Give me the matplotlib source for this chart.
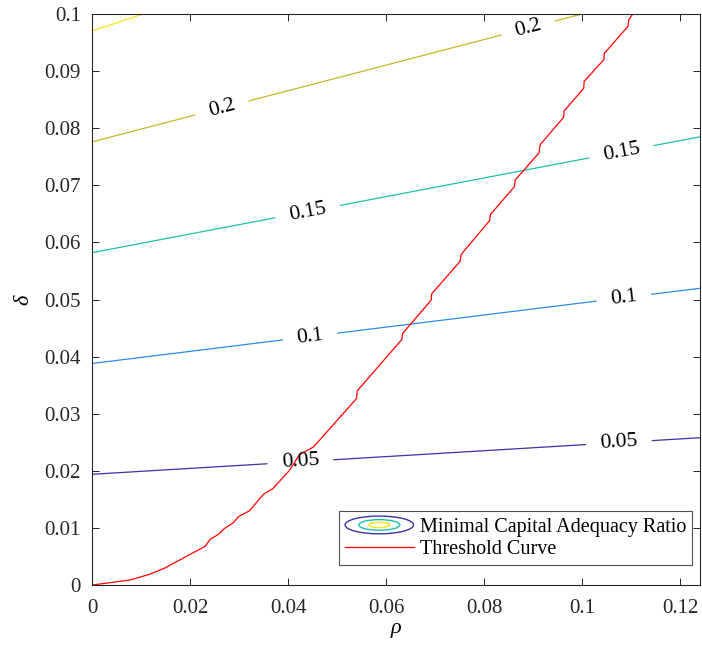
import numpy as np
import matplotlib
matplotlib.use("Agg")
import matplotlib.pyplot as plt
from matplotlib.patches import Ellipse
from matplotlib.legend_handler import HandlerBase
from matplotlib.lines import Line2D

# Contour levels of the minimal capital adequacy ratio and their colours
levels = [0.05, 0.10, 0.15, 0.20, 0.25]
level_colors = ["#3a34a6", "#2f8be8", "#1fbfb0", "#c9b52a", "#f5e81c"]

# Ratio surface: level c satisfies delta = c*a + c*rho*(b + k*c)
ratio_a = 0.388
ratio_b = 1.003
ratio_k = 0.587

# Threshold curve (rho, delta)
rho_thr = [0.0, 0.0078, 0.0118, 0.0149, 0.0231, 0.0241, 0.0258, 0.0270, 0.0288,
           0.0299, 0.0321, 0.0350, 0.0369, 0.0403, 0.0423, 0.0452, 0.0540, 0.0541,
           0.0632, 0.0634, 0.0692, 0.0693, 0.0751, 0.0753, 0.0811, 0.0813, 0.0862,
           0.0863, 0.0912, 0.0914, 0.0962, 0.0963, 0.1003, 0.1004, 0.1044, 0.1045,
           0.1093, 0.1095, 0.1103]
delta_thr = [0.0, 0.0009, 0.0019, 0.0030, 0.0068, 0.0080, 0.0089, 0.0099, 0.0109,
             0.0120, 0.0130, 0.0159, 0.0169, 0.0201, 0.0228, 0.0242, 0.0327, 0.0340,
             0.0430, 0.0441, 0.0499, 0.0510, 0.0567, 0.0579, 0.0638, 0.0649, 0.0698,
             0.0709, 0.0757, 0.0771, 0.0819, 0.0830, 0.0870, 0.0882, 0.0920, 0.0931,
             0.0978, 0.0990, 0.1000]

xticks = [0, 0.02, 0.04, 0.06, 0.08, 0.1, 0.12]
yticks = [0, 0.01, 0.02, 0.03, 0.04, 0.05, 0.06, 0.07, 0.08, 0.09, 0.1]
xmax, ymax = 0.124, 0.1

plt.rcParams["font.family"] = ["Liberation Serif", "DejaVu Serif"]

fig = plt.figure(figsize=(7.02, 6.53), dpi=100)
ax = fig.add_axes([0.131, 0.104, 0.866, 0.8746])

rho = np.linspace(0, xmax, 400)
delta = np.linspace(0, ymax, 400)
R, D = np.meshgrid(rho, delta)
lin = ratio_a + ratio_b * R
Z = 2 * D / (lin + np.sqrt(lin ** 2 + 4 * ratio_k * R * D))


def level_y(c, x):
    return c * ratio_a + c * x * (ratio_b + ratio_k * c)


cs = ax.contour(R, D, Z, levels=levels, colors=level_colors, linewidths=0.9)

label_x = {0.05: [0.0425, 0.1075], 0.10: [0.0445, 0.1085],
           0.15: [0.0440, 0.1080], 0.20: [0.0265, 0.0890]}
positions = [(x, level_y(lv, x)) for lv, xs in label_x.items() for x in xs]
ax.clabel(cs, levels=levels[:4], inline=True, inline_spacing=14, fmt="%g",
          fontsize=15.5, manual=positions, colors="black")

ax.plot(rho_thr, delta_thr, color="#ff0000", linewidth=0.9)

ax.set_xlim(0, xmax)
ax.set_ylim(0, ymax)
ax.set_xticks(xticks)
ax.set_yticks(yticks)
ax.set_xticklabels([f"{t:g}" for t in xticks])
ax.set_yticklabels([f"{t:g}" for t in yticks])
ax.tick_params(direction="in", length=5, width=0.7, top=True, right=True,
               labelsize=15, colors="#262626")
ax.tick_params(axis="y", pad=8)
ax.tick_params(axis="x", pad=10)
for s in ax.spines.values():
    s.set_color("#262626")
    s.set_linewidth(0.8)

ax.set_xlabel("ρ", fontsize=16, style="italic", labelpad=1)
ax.set_ylabel("δ", fontsize=16, style="italic", labelpad=8)


class ContourIconHandler(HandlerBase):
    def create_artists(self, legend, orig_handle, xdescent, ydescent,
                       width, height, fontsize, trans):
        cx = width / 2 - xdescent
        cy = height / 2 - ydescent
        arts = []
        for scale, col in zip([1.0, 0.6, 0.3],
                              [level_colors[0], level_colors[2], level_colors[4]]):
            e = Ellipse((cx, cy), width * scale, height * 1.15 * scale,
                        facecolor="none", edgecolor=col, linewidth=1.0,
                        transform=trans)
            arts.append(e)
        return arts


class ContourProxy:
    pass


proxy = ContourProxy()
thr_line = Line2D([], [], color="#ff0000", linewidth=0.9)
leg = ax.legend([proxy, thr_line],
                ["Minimal Capital Adequacy Ratio", "Threshold Curve"],
                handler_map={ContourProxy: ContourIconHandler()},
                loc="lower right", bbox_to_anchor=(0.987, 0.035),
                fontsize=14.5, frameon=True, fancybox=False, handlelength=3.4,
                handleheight=0.8, handletextpad=0.3, borderpad=0.3,
                labelspacing=0.12, borderaxespad=0)
leg.get_frame().set_edgecolor("#262626")
leg.get_frame().set_linewidth(0.8)

fig.savefig("out.png", dpi=100)
